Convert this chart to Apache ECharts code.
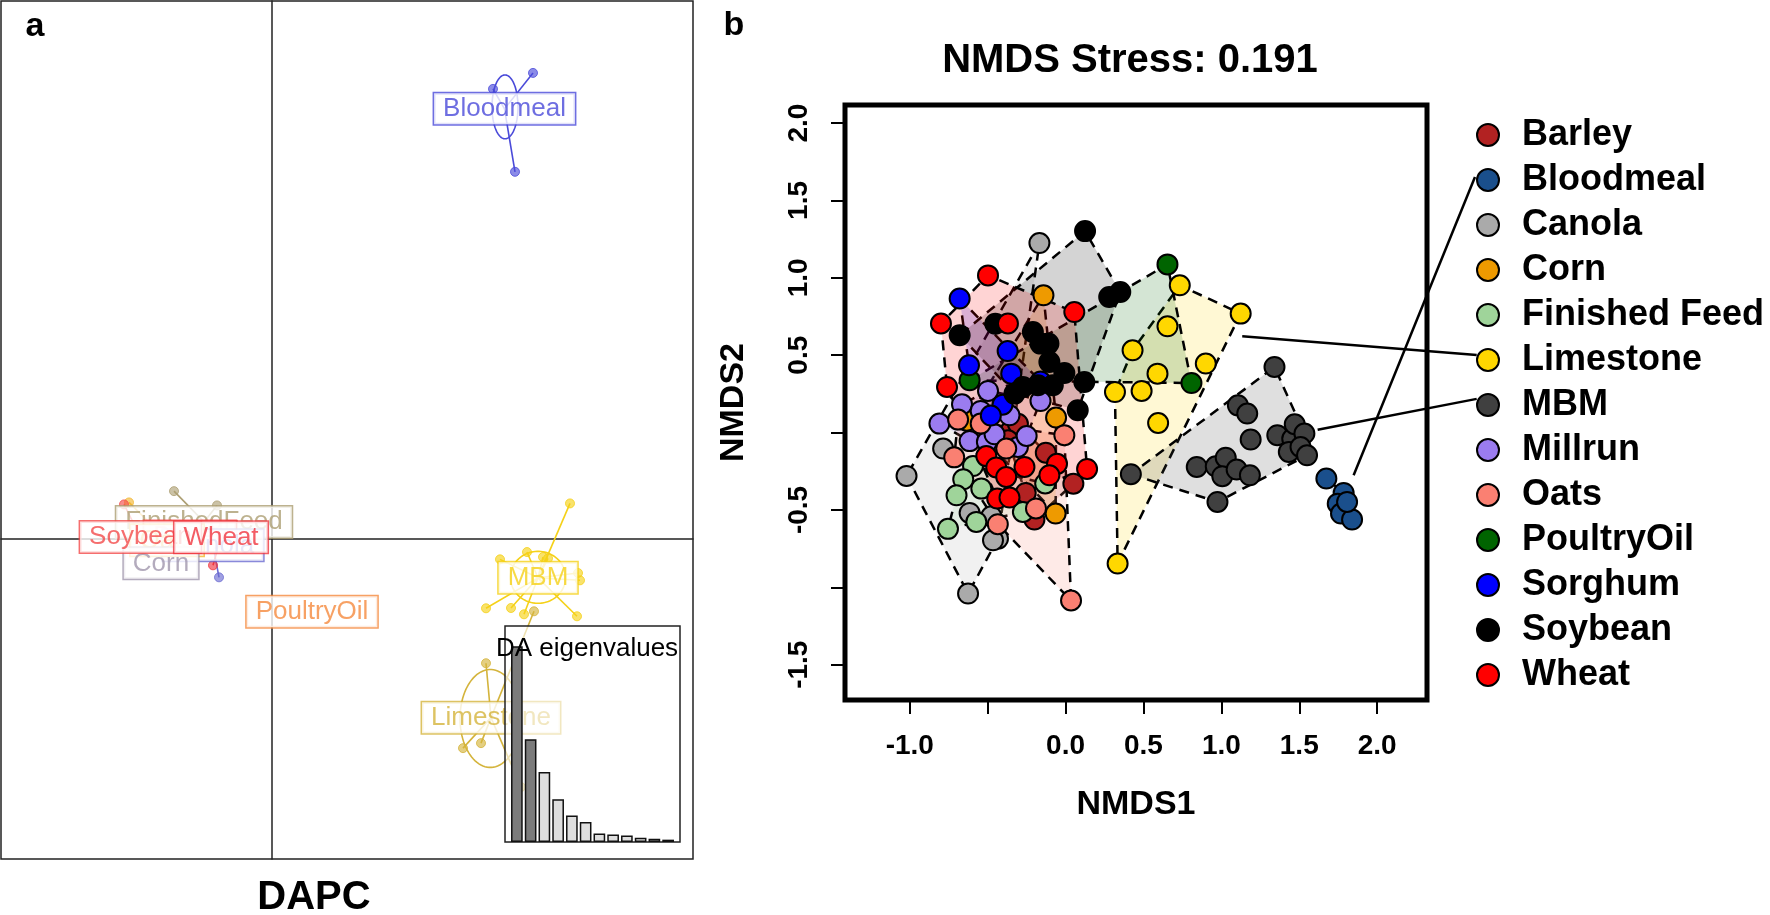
<!DOCTYPE html>
<html><head><meta charset="utf-8">
<script src="https://cdn.jsdelivr.net/npm/echarts@6/dist/echarts.min.js"></script>
<style>html,body{margin:0;padding:0;background:#fff}#c{width:1770px;height:915px}</style>
</head><body><div id="c"></div>
<script>
// ================= Panel b : NMDS =================
const groups = ['Barley','Bloodmeal','Canola','Corn','Finished Feed','Limestone','MBM','Millrun','Oats','PoultryOil','Sorghum','Soybean','Wheat'];
const groupColors = ['#b22222','#1a4f8c','#aaaaaa','#ee9a00','#9fd49a','#ffd700','#404040','#9b7cf0','#fa8072','#006400','#0000ff','#000000','#ff0000'];
const barley = [[-0.127,-0.13],[0.05,-0.33],[-0.256,-0.39],[-0.2,-0.562],[-0.35,0.015],[-0.306,0.057],[-0.37,-0.05]];
const bloodmeal = [[1.674,-0.297],[1.785,-0.39],[1.747,-0.459],[1.768,-0.523],[1.839,-0.562],[1.807,-0.448]];
const canola = [[-0.168,1.225],[-0.786,-0.103],[-1.021,-0.28],[-0.616,-0.519],[-0.477,-0.541],[-0.434,-0.685],[-0.466,-0.696],[-0.626,-1.04]];
const corn = [[-0.142,0.887],[-0.061,0.097],[-0.634,0.077],[-0.064,-0.523]];
const finishedFeed = [[-0.594,-0.216],[-0.657,-0.302],[-0.541,-0.362],[-0.7,-0.405],[-0.131,-0.329],[-0.274,-0.513],[-0.573,-0.577],[-0.755,-0.622]];
const limestone = [[0.733,0.952],[1.124,0.769],[0.654,0.687],[0.43,0.532],[0.9,0.446],[0.59,0.381],[0.317,0.262],[0.488,0.269],[0.594,0.062],[0.334,-0.846]];
const mbm = [[1.341,0.424],[1.106,0.176],[1.166,0.123],[1.188,-0.045],[1.359,-0.017],[1.455,-0.04],[1.471,0.054],[1.533,-0.006],[1.433,-0.125],[1.508,-0.093],[1.55,-0.147],[0.842,-0.222],[0.964,-0.218],[1.028,-0.162],[1.006,-0.282],[1.098,-0.239],[1.183,-0.276],[0.975,-0.448],[0.419,-0.269]];
const millrun = [[-0.498,0.269],[-0.161,0.204],[-0.665,0.183],[-0.81,0.058],[-0.36,0.112],[-0.616,-0.055],[-0.505,-0.06],[-0.456,-0.011],[-0.306,-0.093],[-0.25,-0.022],[-0.545,0.14]];
const oats = [[-0.69,0.084],[-0.545,0.058],[-0.008,-0.017],[-0.715,-0.16],[-0.381,-0.103],[-0.435,-0.592],[-0.19,-0.49],[0.035,-1.085]];
const poultryOil = [[-0.616,0.338],[0.654,1.087],[0.808,0.32]];
const sorghum = [[-0.68,0.866],[-0.372,0.527],[-0.62,0.435],[-0.349,0.381],[-0.405,0.18],[-0.48,0.11],[-0.16,0.33]];
const soybean = [[0.125,1.302],[0.28,0.876],[0.351,0.908],[-0.451,0.704],[-0.68,0.629],[-0.21,0.65],[-0.161,0.575],[-0.11,0.575],[-0.104,0.456],[-0.008,0.385],[0.12,0.327],[-0.274,0.295],[-0.178,0.306],[-0.082,0.306],[-0.328,0.252],[0.078,0.144]];
const wheat = [[-0.498,1.016],[0.056,0.779],[-0.8,0.705],[-0.37,0.705],[-0.761,0.295],[0.138,-0.235],[-0.509,-0.152],[-0.445,-0.225],[-0.381,-0.287],[-0.264,-0.222],[-0.055,-0.202],[-0.104,-0.276],[-0.439,-0.426],[-0.36,-0.42]];
const groupPoints = [barley,bloodmeal,canola,corn,finishedFeed,limestone,mbm,millrun,oats,poultryOil,sorghum,soybean,wheat];
const xTicks = [-1.0,-0.5,0.0,0.5,1.0,1.5,2.0];
const xTickLabels = [-1.0,0.0,0.5,1.0,1.5,2.0];
const yTicks = [-1.5,-1.0,-0.5,0.0,0.5,1.0,1.5,2.0];
const yTickLabels = [-1.5,-0.5,0.5,1.0,1.5,2.0];
// annotation lines from groups to legend: [x1, y1, x2, y2]
const annotationLines = [[1.134,0.622,2.639,0.501],[1.618,0.019,2.639,0.218],[1.849,-0.276,2.628,1.652]];

// ================= Panel a : DAPC =================
const dapcNames = ['FinishedFeed','Barley','Canola','Oats','Corn','Soybean','Wheat','PoultryOil','Bloodmeal','MBM','Limestone'];
const dapcColors = ['#ad9f73','#ee4444','#6b6bd1','#f2b630','#a096ad','#f24a4a','#f0353f','#f58a3d','#4a4ad9','#f5d118','#d4b43c'];
const dapcCentroids = [[-1.7,0.4125],[-2.05,0.05],[-1.475,-0.175],[-2.625,-0.05],[-2.775,-0.625],[-3.29,0.0375],[-1.275,0.025],[1.0,-1.8375],[5.8125,10.75],[6.65,-0.9875],[5.475,-4.4875]];
const dapcPoints = [
  [[-2.45,1.1825],[-1.375,0.825]],
  [],
  [[-1.325,-0.975]],
  [[-3.575,0.9]],
  [],
  [[-3.7,0.85]],
  [[-1.475,-0.675]],
  [],
  [[6.525,11.65],[5.525,11.25],[6.075,9.175]],
  [[7.45,0.875],[5.7,-0.525],[6.375,-0.3425],[6.775,-0.4675],[6.9,-0.5],[7.65,-0.8675],[7.7,-1.05],[5.35,-1.75],[5.975,-1.7425],[6.3,-1.9],[7.625,-1.95]],
  [[5.35,-3.125],[4.775,-5.25],[5.225,-5.125],[6.225,-6.225],[6.55,-1.825]]
];
// ellipses: [cx, cy, rx, ry] for Bloodmeal, MBM, Limestone
const dapcEllipses = [[5.825,10.8,0.325,0.8],[6.65,-0.975,0.69,0.65],[5.4575,-4.5075,0.7575,1.225]];
const dapcEllipseGroups = ['Bloodmeal','MBM','Limestone'];
const eigenValues = [100,52.5,35.8,21.8,13.6,10.2,4.3,3.8,3.3,2.2,1.7,1.2];
const retainedAxes = 2;

const FONT = "'Liberation Sans', Arial, Helvetica, sans-serif";

function hexA(hex, a){
  const h = hex.replace('#','');
  const r = parseInt(h.substr(0,2),16), g = parseInt(h.substr(2,2),16), b = parseInt(h.substr(4,2),16);
  return `rgba(${r},${g},${b},${a})`;
}
function convexHull(pts){
  const p = pts.slice().sort((a,b)=>a[0]-b[0]||a[1]-b[1]);
  if (p.length < 3) return p;
  const cross=(o,a,b)=>(a[0]-o[0])*(b[1]-o[1])-(a[1]-o[1])*(b[0]-o[0]);
  const lower=[]; for(const q of p){while(lower.length>=2&&cross(lower[lower.length-2],lower[lower.length-1],q)<=0)lower.pop();lower.push(q);}
  const upper=[]; for(let i=p.length-1;i>=0;i--){const q=p[i];while(upper.length>=2&&cross(upper[upper.length-2],upper[upper.length-1],q)<=0)upper.pop();upper.push(q);}
  upper.pop(); lower.pop(); return lower.concat(upper);
}

const series = [];

// ---- panel a ----
dapcNames.forEach((n,i)=>{
  const cen = dapcCentroids[i];
  if (dapcPoints[i].length){
    series.push({type:'custom', name:'a-lines-'+n, xAxisIndex:0, yAxisIndex:0, z:2, silent:true,
      data: dapcPoints[i],
      renderItem:(p,api)=>{const a=api.coord(cen); const b=api.coord([api.value(0),api.value(1)]);
        return {type:'line', shape:{x1:a[0],y1:a[1],x2:b[0],y2:b[1]}, style:{stroke:dapcColors[i], lineWidth:1.6}};}
    });
    series.push({type:'scatter', name:'a-pts-'+n, xAxisIndex:0, yAxisIndex:0, z:3, silent:true,
      symbolSize:9, data: dapcPoints[i],
      itemStyle:{color:hexA(dapcColors[i],0.8), borderColor:dapcColors[i], borderWidth:1}});
  }
});
dapcEllipses.forEach((e,k)=>{
  const col = dapcColors[dapcNames.indexOf(dapcEllipseGroups[k])];
  series.push({type:'custom', name:'a-ell-'+k, xAxisIndex:0, yAxisIndex:0, z:2, silent:true,
    data:[e],
    renderItem:(p,api)=>{const cx=api.value(0),cy=api.value(1),rx=api.value(2),ry=api.value(3); const pts=[];
      for(let t=0;t<90;t++){const a=t/90*2*Math.PI; pts.push(api.coord([cx+rx*Math.cos(a), cy+ry*Math.sin(a)]));}
      return {type:'polygon', shape:{points:pts}, style:{fill:'none', stroke:col, lineWidth:1.6}};}
  });
});
dapcNames.forEach((n,i)=>{
  series.push({type:'scatter', name:'a-lab-'+n, xAxisIndex:0, yAxisIndex:0, z:5+i, silent:true,
    symbolSize:1, itemStyle:{color:'rgba(0,0,0,0)'}, data:[dapcCentroids[i]],
    label:{show:true, position:'inside', formatter:n, color:dapcColors[i], fontSize:26, fontFamily:FONT,
      backgroundColor:'#ffffff', borderColor:dapcColors[i], borderWidth:1.5, padding:[3,9,2,9]}});
});
// inset frame
series.push({type:'custom', name:'inset-frame', xAxisIndex:1, yAxisIndex:1, z:30, silent:true, data:[[0.5,0.5]],
  renderItem:(p,api)=>({type:'rect', shape:{x:p.coordSys.x,y:p.coordSys.y,width:p.coordSys.width,height:p.coordSys.height},
    style:{fill:'rgba(255,255,255,0.6)', stroke:'#222', lineWidth:1.5}})});
series.push({type:'bar', name:'eigen', xAxisIndex:2, yAxisIndex:2, z:31, silent:true, barWidth:11.7,
  data: eigenValues,
  itemStyle:{color:(p)=>p.dataIndex<retainedAxes?'#7b7b7b':'#dedede', borderColor:'#111', borderWidth:1.5}});

// ---- panel b ----
series.push({type:'custom', name:'hulls', xAxisIndex:3, yAxisIndex:3, z:2, silent:true,
  data: groups.map((g,i)=>[groupPoints[i][0][0], groupPoints[i][0][1], i]),
  renderItem:(p,api)=>{const gi=api.value(2); const hull=convexHull(groupPoints[gi]);
    if (hull.length<3) return null;
    const pts=hull.map(q=>api.coord(q));
    return {type:'polygon', shape:{points:pts}, style:{fill:hexA(groupColors[gi],0.17), stroke:'#000', lineWidth:2.5, lineDash:[10,7]}};}
});
groups.forEach((g,i)=>{
  series.push({type:'scatter', name:g, xAxisIndex:3, yAxisIndex:3, z:3, silent:true,
    symbolSize:20, data:groupPoints[i],
    itemStyle:{color:groupColors[i], borderColor:'#000', borderWidth:2, opacity:1}});
});
series.push({type:'custom', name:'annotations', xAxisIndex:3, yAxisIndex:3, z:4, silent:true, clip:false,
  data: annotationLines,
  renderItem:(p,api)=>{const a=api.coord([api.value(0),api.value(1)]); const b=api.coord([api.value(2),api.value(3)]);
    return {type:'line', shape:{x1:a[0],y1:a[1],x2:b[0],y2:b[1]}, style:{stroke:'#000', lineWidth:2.5}};}
});

const option = {
  animation:false,
  backgroundColor:'#fff',
  grid:[
    {left:1, top:1, width:692, height:858, show:true, borderColor:'#222', borderWidth:1.5, backgroundColor:'transparent'},
    {left:505, top:626, width:175, height:216, show:false},
    {left:510, top:626, width:165, height:216, show:false},
    {left:845, top:105, width:582, height:595, show:true, borderColor:'#000', borderWidth:5}
  ],
  xAxis:[
    {gridIndex:0, type:'value', min:-6.775, max:10.525, axisLine:{show:true, onZero:true, lineStyle:{color:'#222', width:1.5}}, axisTick:{show:false}, axisLabel:{show:false}, splitLine:{show:false}},
    {gridIndex:1, type:'value', min:0, max:1, show:false},
    {gridIndex:2, type:'category', data:eigenValues.map((v,i)=>String(i+1)), show:false},
    {gridIndex:3, type:'value', min:-1.416, max:2.32, position:'bottom', axisLine:{show:false, onZero:false},
      axisTick:{show:true, length:14, lineStyle:{color:'#000', width:2}, customValues:xTicks},
      axisLabel:{show:true, customValues:xTickLabels, formatter:v=>Number(v).toFixed(1), fontSize:28, fontWeight:'bold', color:'#000', fontFamily:FONT, margin:32},
      splitLine:{show:false},
      name:'NMDS1', nameLocation:'middle', nameGap:88, nameTextStyle:{fontSize:34, fontWeight:'bold', color:'#000', fontFamily:FONT}}
  ],
  yAxis:[
    {gridIndex:0, type:'value', min:-8.025, max:13.45, axisLine:{show:true, onZero:true, lineStyle:{color:'#222', width:1.5}}, axisTick:{show:false}, axisLabel:{show:false}, splitLine:{show:false}},
    {gridIndex:1, type:'value', min:0, max:1, show:false},
    {gridIndex:2, type:'value', min:0, max:110.4, show:false},
    {gridIndex:3, type:'value', min:-1.728, max:2.117, position:'left', axisLine:{show:false, onZero:false},
      axisTick:{show:true, length:14, lineStyle:{color:'#000', width:2}, customValues:yTicks},
      axisLabel:{show:true, customValues:yTickLabels, rotate:90, formatter:v=>Number(v).toFixed(1), fontSize:28, fontWeight:'bold', color:'#000', fontFamily:FONT, margin:32},
      splitLine:{show:false},
      name:'NMDS2', nameLocation:'middle', nameGap:94, nameRotate:90, nameTextStyle:{fontSize:34, fontWeight:'bold', color:'#000', fontFamily:FONT}}
  ],
  legend:{
    data:groups, orient:'vertical', left:1471, top:112, itemWidth:58, itemHeight:22, itemGap:9,
    selectedMode:false, icon:'circle',
    textStyle:{fontSize:36, fontWeight:'bold', color:'#000', fontFamily:FONT, lineHeight:34}
  },
  graphic:[
    {type:'text', x:35, y:27, z:100, style:{text:'a', font:"bold 34px "+FONT, fill:'#000', textAlign:'center', textVerticalAlign:'middle'}},
    {type:'text', x:734, y:26, z:100, style:{text:'b', font:"bold 34px "+FONT, fill:'#000', textAlign:'center', textVerticalAlign:'middle'}},
    {type:'text', x:314, y:898, z:100, style:{text:'DAPC', font:"bold 40px "+FONT, fill:'#000', textAlign:'center', textVerticalAlign:'middle'}},
    {type:'text', x:1130, y:61, z:100, style:{text:'NMDS Stress: 0.191', font:"bold 40px "+FONT, fill:'#000', textAlign:'center', textVerticalAlign:'middle'}},
    {type:'text', x:496, y:649, z:100, style:{text:'DA eigenvalues', font:"26px "+FONT, fill:'#000', textAlign:'left', textVerticalAlign:'middle'}}
  ],
  series
};
const chart = echarts.init(document.getElementById('c'), null, {renderer:'canvas'});
chart.setOption(option);
</script></body></html>
